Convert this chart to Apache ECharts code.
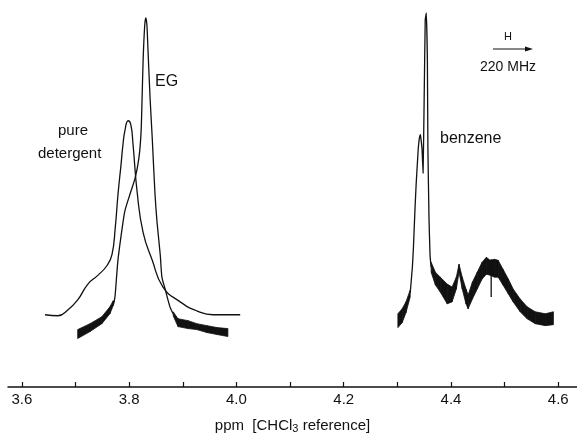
<!DOCTYPE html>
<html>
<head>
<meta charset="utf-8">
<script src="https://cdn.jsdelivr.net/npm/echarts@6/dist/echarts.min.js"></script>
<style>
  html, body { margin: 0; padding: 0; background: #fff; }
  #nmr { width: 577px; height: 439px; }
</style>
</head>
<body>
<div id="nmr"></div>
<script>
// ppm axis
var tickValues = [3.6, 3.7, 3.8, 3.9, 4.0, 4.1, 4.2, 4.3, 4.4, 4.5, 4.6];
var labelValues = [3.6, 3.8, 4.0, 4.2, 4.4, 4.6];

// pure detergent (smooth trace)
var detPpm = [3.643, 3.667, 3.686, 3.704, 3.723, 3.742, 3.759, 3.768, 3.774, 3.779, 3.785, 3.788, 3.792, 3.798, 3.803, 3.807, 3.815, 3.826, 3.843, 3.863, 3.895, 3.926, 3.956, 4.007];
var detInt = [73, 72, 78, 88, 104, 113, 123, 134, 161, 194, 226, 243, 259, 269, 265, 246, 196, 156, 128, 101, 86, 77, 73, 73];

// EG peak (thin part)
var egPpm = [3.772, 3.774, 3.779, 3.787, 3.792, 3.801, 3.811, 3.818, 3.822, 3.824, 3.826, 3.829, 3.831, 3.833, 3.835, 3.839, 3.843, 3.848, 3.852, 3.858, 3.861, 3.867, 3.876, 3.882];
var egInt = [86, 94, 128, 161, 178, 194, 211, 231, 256, 291, 331, 366, 373, 366, 341, 291, 251, 196, 166, 133, 111, 99, 81, 74];
// EG noisy wings: lower / upper edge of the noise band
var egLeftPpm = [3.704, 3.727, 3.749, 3.764, 3.770, 3.772];
var egLeftLow = [49, 56, 64, 74, 82, 85];
var egLeftHigh = [58, 64, 71, 81, 87, 87];
var egRightPpm = [3.882, 3.891, 3.910, 3.926, 3.945, 3.964, 3.984];
var egRightLow = [72, 61, 59, 58, 55, 53, 51];
var egRightHigh = [76, 69, 67, 64, 62, 60, 59];

// benzene
var bzPpm = [4.324, 4.328, 4.330, 4.333, 4.335, 4.339, 4.341, 4.343, 4.344, 4.346, 4.348, 4.350, 4.352, 4.354, 4.356, 4.357, 4.359, 4.361, 4.363];
var bzInt = [95, 121, 141, 181, 204, 241, 251, 255, 251, 241, 216, 291, 371, 378, 331, 241, 171, 133, 121];
var bzLeftPpm = [4.301, 4.309, 4.316, 4.324];
var bzLeftLow = [60, 65, 75, 91];
var bzLeftHigh = [74, 79, 86, 98];
var bzRightPpm = [4.363, 4.371, 4.380, 4.393, 4.402, 4.410, 4.415, 4.421, 4.428, 4.432, 4.440, 4.449, 4.458, 4.466, 4.473, 4.481, 4.488, 4.497, 4.507, 4.516, 4.529, 4.542, 4.557, 4.576, 4.591];
var bzRightLow = [116, 103, 96, 84, 86, 99, 116, 99, 84, 79, 89, 99, 109, 114, 113, 111, 111, 103, 94, 86, 76, 69, 64, 62, 63];
var bzRightHigh = [126, 116, 111, 104, 101, 111, 124, 111, 99, 93, 106, 116, 126, 131, 128, 129, 128, 119, 109, 99, 89, 81, 76, 74, 76];
var bzSpikePpm = [4.475, 4.475];
var bzSpikeInt = [129, 91];

var ink = '#111';
var font = 'Liberation Sans';

function pairs(xs, ys) {
    var out = [];
    for (var i = 0; i < xs.length; i++) out.push([xs[i], ys[i]]);
    return out;
}

function trace(name, xs, ys, width, smooth) {
    return {
        name: name,
        type: 'line',
        data: pairs(xs, ys),
        showSymbol: false,
        smooth: smooth,
        lineStyle: { color: ink, width: width },
        z: 3
    };
}

// noise band: filled polygon between lower and upper edge, one piece per step
function band(name, xs, low, high) {
    var data = [];
    for (var i = 0; i < xs.length; i++) data.push([xs[i], low[i], high[i]]);
    return {
        name: name,
        type: 'custom',
        data: data,
        encode: { x: 0, y: [1, 2] },
        renderItem: function (params, api) {
            var i = params.dataIndexInside;
            if (i >= params.dataInsideLength - 1) return;
            var a = api.coord([api.value(0, i), api.value(1, i)]);
            var b = api.coord([api.value(0, i + 1), api.value(1, i + 1)]);
            var c = api.coord([api.value(0, i + 1), api.value(2, i + 1)]);
            var d = api.coord([api.value(0, i), api.value(2, i)]);
            return {
                type: 'polygon',
                shape: { points: [a, b, c, d] },
                style: { fill: ink, stroke: ink, lineWidth: 0.8 }
            };
        },
        z: 2
    };
}

var chart = echarts.init(document.getElementById('nmr'));

var series = [
    trace('pure detergent', detPpm, detInt, 1.3, 0.5),
    trace('EG', egPpm, egInt, 1.3, 0.25),
    trace('benzene', bzPpm, bzInt, 1.3, 0.1),
    trace('benzene spike', bzSpikePpm, bzSpikeInt, 1.3, false),
    band('egL', egLeftPpm, egLeftLow, egLeftHigh),
    band('egR', egRightPpm, egRightLow, egRightHigh),
    band('bzL', bzLeftPpm, bzLeftLow, bzLeftHigh),
    band('bzR', bzRightPpm, bzRightLow, bzRightHigh)
];

var option = {
    animation: false,
    backgroundColor: '#fff',
    grid: { left: 8, right: 0, top: 0, bottom: 48 },
    xAxis: {
        type: 'value',
        min: 3.574,
        max: 4.635,
        axisLine: { lineStyle: { color: ink, width: 1.5 } },
        axisTick: { inside: true, length: 5, customValues: tickValues, lineStyle: { color: ink, width: 1.2 } },
        axisLabel: {
            customValues: labelValues,
            formatter: function (v) { return v.toFixed(1); },
            margin: 5, fontSize: 15, color: ink, fontFamily: font
        },
        splitLine: { show: false },
        name: 'ppm  [CHCl{s|3} reference]',
        nameLocation: 'middle',
        nameGap: 30,
        nameTextStyle: {
            fontSize: 15, color: ink, fontFamily: font,
            rich: { s: { fontSize: 11, color: ink, fontFamily: font, verticalAlign: 'bottom', padding: [6, 0, 0, 0] } }
        }
    },
    yAxis: { type: 'value', min: 0, max: 391, show: false },
    series: series,
    graphic: [
        { type: 'text', left: 58, top: 123, style: { text: 'pure', font: '15px ' + font, fill: ink } },
        { type: 'text', left: 38, top: 146, style: { text: 'detergent', font: '15px ' + font, fill: ink } },
        { type: 'text', left: 155, top: 74, style: { text: 'EG', font: '16px ' + font, fill: ink } },
        { type: 'text', left: 440, top: 131, style: { text: 'benzene', font: '16px ' + font, fill: ink } },
        { type: 'text', left: 504, top: 31, style: { text: 'H', font: '11px ' + font, fill: ink } },
        { type: 'line', shape: { x1: 493, y1: 49, x2: 528, y2: 49 }, style: { stroke: ink, lineWidth: 1 } },
        { type: 'polygon', shape: { points: [[533, 49], [525, 46.5], [525, 51.5]] }, style: { fill: ink } },
        { type: 'text', left: 480, top: 60, style: { text: '220 MHz', font: '14px ' + font, fill: ink } }
    ]
};
chart.setOption(option);
</script>
</body>
</html>
